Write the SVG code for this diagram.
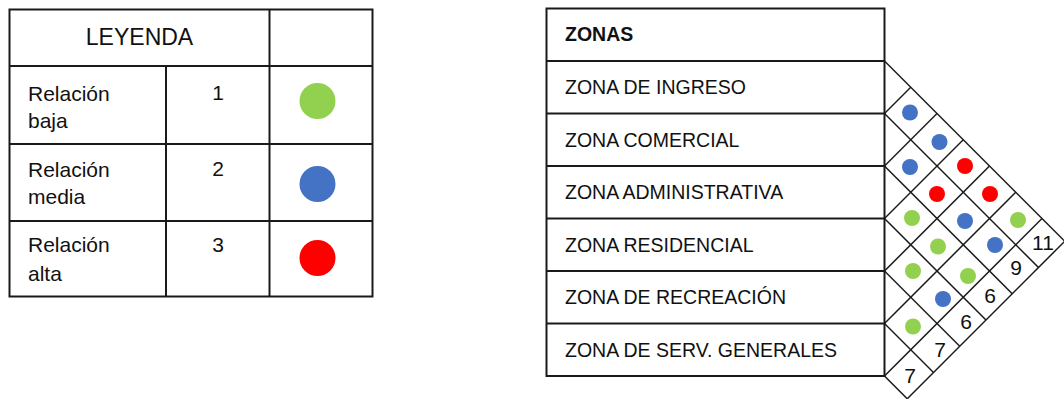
<svg xmlns="http://www.w3.org/2000/svg" width="1064" height="399" viewBox="0 0 1064 399">
  <style>
    .tbl { fill: #ffffff; stroke: #1a1a1a; stroke-width: 2; }
    .ln { stroke: #1a1a1a; stroke-width: 2; fill: none; }
    .grid { stroke: #1a1a1a; stroke-width: 1.5; fill: none; }
    .t { font-family: "Liberation Sans", Arial, sans-serif; fill: #111111; }
    .zone { font-size: 19.5px; }
    .leg { font-size: 21px; }
    .num { font-size: 21px; text-anchor: middle; }
    .g { fill: #92D050; }
    .b { fill: #4472C4; }
    .r { fill: #FF0000; }
  </style>
  <rect width="1064" height="399" fill="#ffffff"/>

  <g id="legend">
    <rect class="tbl" x="9.5" y="9.5" width="363" height="287"/>
    <line class="ln" x1="9.5" y1="66" x2="372.5" y2="66"/>
    <line class="ln" x1="9.5" y1="144" x2="372.5" y2="144"/>
    <line class="ln" x1="9.5" y1="221" x2="372.5" y2="221"/>
    <line class="ln" x1="166" y1="66" x2="166" y2="296.5"/>
    <line class="ln" x1="269.5" y1="9.5" x2="269.5" y2="296.5"/>
    <text class="t" x="139.5" y="45" font-size="23" text-anchor="middle">LEYENDA</text>
    <g id="legend-low">
      <text class="t leg" x="28" y="101">Relación</text>
      <text class="t leg" x="28" y="128">baja</text>
      <text class="t leg" x="218" y="100" text-anchor="middle">1</text>
      <circle class="g" cx="317.5" cy="101" r="18"/>
    </g>
    <g id="legend-mid">
      <text class="t leg" x="28" y="177">Relación</text>
      <text class="t leg" x="28" y="204">media</text>
      <text class="t leg" x="218" y="176" text-anchor="middle">2</text>
      <circle class="b" cx="317.5" cy="184" r="18"/>
    </g>
    <g id="legend-high">
      <text class="t leg" x="28" y="252">Relación</text>
      <text class="t leg" x="28" y="281">alta</text>
      <text class="t leg" x="218" y="252" text-anchor="middle">3</text>
      <circle class="r" cx="317.5" cy="258" r="18"/>
    </g>
  </g>

  <g id="zones">
    <rect class="tbl" x="546.5" y="8.5" width="338" height="367.5"/>
    <line class="ln" x1="546.5" y1="61" x2="884.5" y2="61"/>
    <line class="ln" x1="546.5" y1="113.5" x2="884.5" y2="113.5"/>
    <line class="ln" x1="546.5" y1="166" x2="884.5" y2="166"/>
    <line class="ln" x1="546.5" y1="218.5" x2="884.5" y2="218.5"/>
    <line class="ln" x1="546.5" y1="271" x2="884.5" y2="271"/>
    <line class="ln" x1="546.5" y1="323.5" x2="884.5" y2="323.5"/>
    <text class="t" x="565" y="41" font-size="19.5" font-weight="bold">ZONAS</text>
    <g id="zone-ingreso"><text class="t zone" x="565" y="94">ZONA DE INGRESO</text></g>
    <g id="zone-comercial"><text class="t zone" x="565" y="146.5">ZONA COMERCIAL</text></g>
    <g id="zone-administrativa"><text class="t zone" x="565" y="199">ZONA ADMINISTRATIVA</text></g>
    <g id="zone-residencial"><text class="t zone" x="565" y="251.5">ZONA RESIDENCIAL</text></g>
    <g id="zone-recreacion"><text class="t zone" x="565" y="304">ZONA DE RECREACIÓN</text></g>
    <g id="zone-servicios"><text class="t zone" x="565" y="356.5">ZONA DE SERV. GENERALES</text></g>
  </g>

  <g id="matrix-grid">
    <line class="grid" x1="884.5" y1="61" x2="1064.75" y2="241.25"/>
    <line class="grid" x1="884.5" y1="113.5" x2="1038.5" y2="267.5"/>
    <line class="grid" x1="884.5" y1="166" x2="1012.25" y2="293.75"/>
    <line class="grid" x1="884.5" y1="218.5" x2="986" y2="320"/>
    <line class="grid" x1="884.5" y1="271" x2="959.75" y2="346.25"/>
    <line class="grid" x1="884.5" y1="323.5" x2="933.5" y2="372.5"/>
    <line class="grid" x1="884.5" y1="376" x2="907.25" y2="398.75"/>
    <line class="grid" x1="884.5" y1="113.5" x2="910.75" y2="87.25"/>
    <line class="grid" x1="884.5" y1="166" x2="937" y2="113.5"/>
    <line class="grid" x1="884.5" y1="218.5" x2="963.25" y2="139.75"/>
    <line class="grid" x1="884.5" y1="271" x2="989.5" y2="166"/>
    <line class="grid" x1="884.5" y1="323.5" x2="1015.75" y2="192.25"/>
    <line class="grid" x1="884.5" y1="376" x2="1042" y2="218.5"/>
    <line class="grid" x1="907.25" y1="398.75" x2="1064.75" y2="241.25"/>
  </g>

  <g id="matrix-relations">
    <circle class="b" cx="910" cy="112.5" r="8"/>
    <circle class="b" cx="939.5" cy="142" r="8"/>
    <circle class="b" cx="910" cy="167" r="8"/>
    <circle class="r" cx="965" cy="166" r="8"/>
    <circle class="r" cx="937" cy="194" r="8"/>
    <circle class="r" cx="990" cy="194" r="8"/>
    <circle class="g" cx="912" cy="218" r="8"/>
    <circle class="b" cx="965" cy="221" r="8"/>
    <circle class="g" cx="1018" cy="220" r="8"/>
    <circle class="g" cx="938" cy="246.5" r="8"/>
    <circle class="b" cx="995" cy="245" r="8"/>
    <circle class="g" cx="913" cy="271" r="8"/>
    <circle class="g" cx="968" cy="276" r="8"/>
    <circle class="b" cx="943" cy="299" r="8"/>
    <circle class="g" cx="913" cy="326.5" r="8"/>
  </g>

  <g id="matrix-totals">
    <text class="t num" x="1043" y="249.5">11</text>
    <text class="t num" x="1016" y="275">9</text>
    <text class="t num" x="990" y="302.5">6</text>
    <text class="t num" x="966" y="328.5">6</text>
    <text class="t num" x="940" y="356.5">7</text>
    <text class="t num" x="910" y="383">7</text>
  </g>
</svg>
